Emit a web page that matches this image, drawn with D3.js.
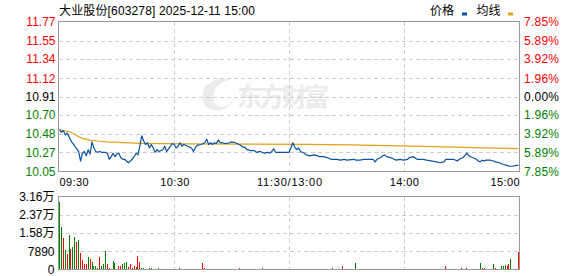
<!DOCTYPE html>
<html>
<head>
<meta charset="utf-8">
<script src="https://cdn.jsdelivr.net/npm/d3@7"></script>
<style>
  body { margin: 0; background: #fff; }
  svg { display: block; }
  text { font-family: "Liberation Sans", Arial, "Noto Sans CJK SC", sans-serif; }
</style>
</head>
<body>
<div id="chart"></div>
<script>
// ---- data ----
const stockTitle = "大业股份[603278] 2025-12-11 15:00";
const prevClose = 10.91;

const priceTicks = [11.77, 11.55, 11.34, 11.12, 10.91, 10.70, 10.48, 10.27, 10.05];
const pctLabels = ["7.85%", "5.89%", "3.92%", "1.96%", "0.00%", "1.96%", "3.92%", "5.89%", "7.85%"];
const timeTicks = [0, 60, 120, 180, 240];
const timeLabels = ["09:30", "10:30", "11:30/13:00", "14:00", "15:00"];
const volTicks = [31600, 23700, 15800, 7890, 0];
const volLabels = ["3.16万", "2.37万", "1.58万", "7890", "0"];

// price line (minute index, price)
const priceMinutes = [0,1,2,3,4,5,6,8,10,11,12,13,14,15,16,17,18,19,20,21,22,24,25,26,27,28,29,30,31,32,33,34,35,36,37,38,39,40,41,42,43,44,45,46,47,48,49,50,51,52,53,54,55,56,57,58,59,60,61,62,63,64,65,67,69,70,71,72,74,76,77,78,79,80,81,82,83,84,85,87,89,90,92,94,96,97,98,100,102,103,105,107,109,110,111,112,113,114,116,120,121,122,123,124,125,126,128,129,131,133,135,136,138,140,142,143,145,147,149,150,154,155,157,159,161,162,164,165,166,168,169,170,171,173,175,176,178,180,182,183,185,187,188,190,192,195,197,199,201,202,204,206,208,209,211,213,214,215,216,218,219,220,221,222,223,225,227,228,230,232,234,235,237,239,240];
const priceValues = [10.53,10.50,10.52,10.47,10.49,10.45,10.40,10.34,10.28,10.17,10.26,10.28,10.23,10.30,10.25,10.39,10.32,10.28,10.27,10.28,10.27,10.27,10.26,10.19,10.22,10.26,10.22,10.25,10.26,10.21,10.19,10.19,10.17,10.15,10.17,10.19,10.22,10.26,10.24,10.34,10.46,10.40,10.36,10.38,10.32,10.36,10.32,10.27,10.30,10.28,10.29,10.30,10.34,10.28,10.31,10.34,10.37,10.36,10.32,10.34,10.38,10.34,10.36,10.34,10.32,10.28,10.32,10.35,10.36,10.38,10.42,10.36,10.38,10.36,10.38,10.37,10.41,10.38,10.38,10.37,10.38,10.39,10.38,10.36,10.33,10.33,10.30,10.29,10.29,10.27,10.28,10.26,10.27,10.26,10.28,10.31,10.27,10.27,10.27,10.27,10.32,10.38,10.33,10.30,10.32,10.28,10.26,10.24,10.23,10.24,10.23,10.22,10.22,10.21,10.19,10.19,10.19,10.18,10.19,10.18,10.19,10.18,10.18,10.19,10.19,10.19,10.19,10.16,10.19,10.21,10.23,10.24,10.22,10.21,10.19,10.18,10.19,10.18,10.19,10.21,10.22,10.19,10.19,10.19,10.18,10.17,10.16,10.15,10.16,10.19,10.19,10.19,10.17,10.19,10.21,10.26,10.23,10.22,10.21,10.19,10.17,10.16,10.18,10.17,10.18,10.18,10.17,10.16,10.15,10.13,10.12,10.11,10.11,10.12,10.12];

// average line (minute index, price)
const avgMinutes = [0,2,4,6,9,12,16,20,25,30,43,65,100,130,152,191,222,240];
const avgValues = [10.53,10.52,10.51,10.50,10.46,10.43,10.41,10.40,10.39,10.385,10.372,10.366,10.364,10.362,10.356,10.338,10.322,10.312];

// volume per minute
const volumes = [
  29300,18480,13720,8230,6790,14720,8660,9820,14150,11980,
  12560,7220,3900,2170,2170,5340,4760,3320,1730,1730,
  720,5340,1730,2450,7940,2450,720,300,3610,2890,
  430,1440,1440,2170,2740,3180,1010,2170,720,1440,
  1010,5630,3180,720,520,430,380,450,520,400,
  350,430,480,400,380,420,350,300,430,390,
  420,360,300,450,400,380,330,410,360,300,
  350,420,380,330,400,2600,450,380,420,350,
  300,390,430,360,410,330,380,300,420,360,
  350,410,380,300,440,360,330,400,380,310,
  360,420,350,380,330,400,860,380,350,420,
  300,370,410,350,380,330,400,360,420,300,
  380,350,420,330,400,360,300,380,420,350,
  330,400,360,420,380,300,350,410,380,330,
  360,400,380,860,420,350,380,400,1300,430,
  380,400,350,420,380,2600,400,350,380,420,
  330,360,400,380,350,420,380,330,400,360,
  350,380,420,360,400,330,380,350,420,360,
  400,380,330,420,360,380,400,350,380,420,
  360,330,400,380,350,420,380,360,400,330,
  380,420,1730,400,360,380,420,350,380,400,
  860,380,420,860,400,380,430,360,420,380,
  3030,860,860,400,380,420,360,2170,860,430,
  380,1300,1730,2000,1730,2170,4330,430,300,380,
  7360
];
// r = up (red), g = down (green)
const volColors = [
  "ggrgrgrggr", "grrrrgrggg", "grgggrrggg", "rrrgggrrrr", "grrg",
  "ggggggggggggggg", "rgrrgrrgggrrgrrg", "r", "rrrgrrrggrrrgrr", "grrrggrrrgrrgrr", "r",
  "rrgrrggrrrgrrg", "gggggggggg", "rrgrrrgrrrgr", "r", "grrr", "r", "rrgggr", "g",
  "grrrrrrrrgrrrrg", "grrrrrrggrrrrgg", "ggrrrrgrrrrggrrr", "r", "rrgrrgr", "r", "gr", "r",
  "grgrrg", "g", "rr", "rrgr", "g", "r", "g", "g", "ggg", "rr", "g", "g", "r", "g", "r"
].join("");

// ---- layout ----
const width = 578, height = 276;
const left = 58.5, right = 519.5;
const pTop = 21.5, pBottom = 171.5;
const vTop = 196.5, vBottom = 269.5;

const RED = "#ff0000", GREEN = "#008000", GRID = "#cccccc", FRAME = "#999999";

const svg = d3.select("#chart").append("svg")
    .attr("width", width)
    .attr("height", height);

const x = d3.scaleLinear().domain([0, 240]).range([59.5, 518.5]);
const y = d3.scaleLinear().domain([10.05, 11.77]).range([pBottom, pTop]);
const yv = d3.scaleLinear().domain([0, 31600]).range([vBottom, vTop]);

function labelColor(i) {
    if (i < 4) return RED;
    if (i == 4) return "#000";
    return GREEN;
}

// watermark
const wm = svg.append("g").attr("fill", "#ebebeb");
wm.append("path")
    .attr("d", "M203,100 C200,86 214,76 230,80 C220,82 210,90 214,102 C218,110 230,108 234,98 C232,112 206,116 203,100 Z");
wm.append("text")
    .attr("x", 237).attr("y", 106)
    .attr("font-size", 25).attr("font-weight", "bold")
    .attr("font-family", "Noto Sans CJK SC")
    .attr("textLength", 92)
    .text("东方财富");

// grids
function drawGrid(top, bottom, yTicks, yScale) {
    const g = svg.append("g")
        .attr("stroke", GRID)
        .attr("stroke-dasharray", "4,3")
        .attr("shape-rendering", "crispEdges");
    g.selectAll(".h")
        .data(yTicks.slice(1, -1))
        .enter().append("line")
        .attr("x1", left).attr("x2", right)
        .attr("y1", d => Math.round(yScale(d)) + 0.5)
        .attr("y2", d => Math.round(yScale(d)) + 0.5);
    g.selectAll(".v")
        .data(timeTicks.slice(1, -1))
        .enter().append("line")
        .attr("y1", top).attr("y2", bottom)
        .attr("x1", d => Math.round(x(d)) + 0.5)
        .attr("x2", d => Math.round(x(d)) + 0.5);
}
drawGrid(pTop, pBottom, priceTicks, y);
drawGrid(vTop, vBottom, volTicks, yv);

// price + average lines
const line = d3.line()
    .x(d => x(d[0]))
    .y(d => y(d[1]));

svg.append("path")
    .datum(avgMinutes.map((m, i) => [m, avgValues[i]]))
    .attr("fill", "none")
    .attr("stroke", "#e3a21a")
    .attr("stroke-width", 1.2)
    .attr("d", line);

svg.append("path")
    .datum(priceMinutes.map((m, i) => [m, priceValues[i]]))
    .attr("fill", "none")
    .attr("stroke", "#0c52a3")
    .attr("stroke-width", 1.2)
    .attr("stroke-linejoin", "round")
    .attr("d", line);

// volume bars
svg.append("g")
    .attr("shape-rendering", "crispEdges")
    .selectAll("rect")
    .data(volumes)
    .enter().append("rect")
    .attr("x", (d, i) => Math.floor(x(i)))
    .attr("width", 1)
    .attr("y", d => yv(d))
    .attr("height", d => vBottom - yv(d))
    .attr("fill", (d, i) => volColors[i] == "r" ? RED : GREEN);

// frames
[[pTop, pBottom], [vTop, vBottom]].forEach(function(b) {
    svg.append("rect")
        .attr("x", left).attr("y", b[0])
        .attr("width", right - left).attr("height", b[1] - b[0])
        .attr("fill", "none")
        .attr("stroke", FRAME)
        .attr("shape-rendering", "crispEdges");
});

// axes
const leftAxis = svg.append("g")
    .attr("transform", "translate(" + left + ",0)")
    .call(d3.axisLeft(y).tickValues(priceTicks).tickFormat(d3.format(".2f")).tickSize(0).tickPadding(3));
leftAxis.select(".domain").remove();
leftAxis.selectAll("text")
    .attr("font-size", 12)
    .attr("font-family", "Liberation Sans, Arial")
    .attr("fill", (d, i) => labelColor(i));

const rightAxis = svg.append("g")
    .attr("transform", "translate(" + right + ",0)")
    .call(d3.axisRight(y).tickValues(priceTicks).tickFormat((d, i) => pctLabels[i]).tickSize(0).tickPadding(4.5));
rightAxis.select(".domain").remove();
rightAxis.selectAll("text")
    .attr("font-size", 12)
    .attr("font-family", "Liberation Sans, Arial")
    .attr("textLength", 35)
    .attr("fill", (d, i) => labelColor(i));

const bottomAxis = svg.append("g")
    .attr("transform", "translate(0," + pBottom + ")")
    .call(d3.axisBottom(x).tickValues(timeTicks).tickFormat((d, i) => timeLabels[i]).tickSize(0).tickPadding(6.5));
bottomAxis.select(".domain").remove();
bottomAxis.selectAll("text")
    .attr("font-size", 11)
    .attr("font-family", "Liberation Sans, Arial")
    .attr("fill", "#000")
    .attr("textLength", (d, i) => timeLabels[i].length * 6 - 1)
    .attr("text-anchor", (d, i) => i == 0 ? "start" : (i == timeTicks.length - 1 ? "end" : "middle"))
    .attr("x", (d, i) => i == 0 ? -0.5 : (i == timeTicks.length - 1 ? 0.5 : 0));

const volAxis = svg.append("g")
    .attr("transform", "translate(" + (left - 1) + ",0)")
    .call(d3.axisLeft(yv).tickValues(volTicks).tickFormat((d, i) => volLabels[i]).tickSize(0).tickPadding(3));
volAxis.select(".domain").remove();
volAxis.selectAll("text")
    .attr("font-size", 12)
    .attr("font-family", "Liberation Sans, Arial, Noto Sans CJK SC")
    .attr("fill", "#000");

// title + legend
svg.append("text")
    .attr("x", 59).attr("y", 14.5)
    .attr("font-size", 12)
    .attr("font-family", "Noto Sans CJK SC")
    .attr("textLength", 196)
    .attr("fill", "#000")
    .text(stockTitle);

const legend = [
    { label: "价格", color: "#0c52a3", tx: 430, mx: 462 },
    { label: "均线", color: "#e3a21a", tx: 476.5, mx: 508 }
];
legend.forEach(function(l) {
    svg.append("text")
        .attr("x", l.tx).attr("y", 15)
        .attr("font-size", 12)
        .attr("font-family", "Noto Sans CJK SC")
        .attr("fill", "#000")
        .text(l.label);
    svg.append("rect")
        .attr("x", l.mx).attr("y", 12.5)
        .attr("width", 5).attr("height", 3)
        .attr("fill", l.color);
});
</script>
</body>
</html>
